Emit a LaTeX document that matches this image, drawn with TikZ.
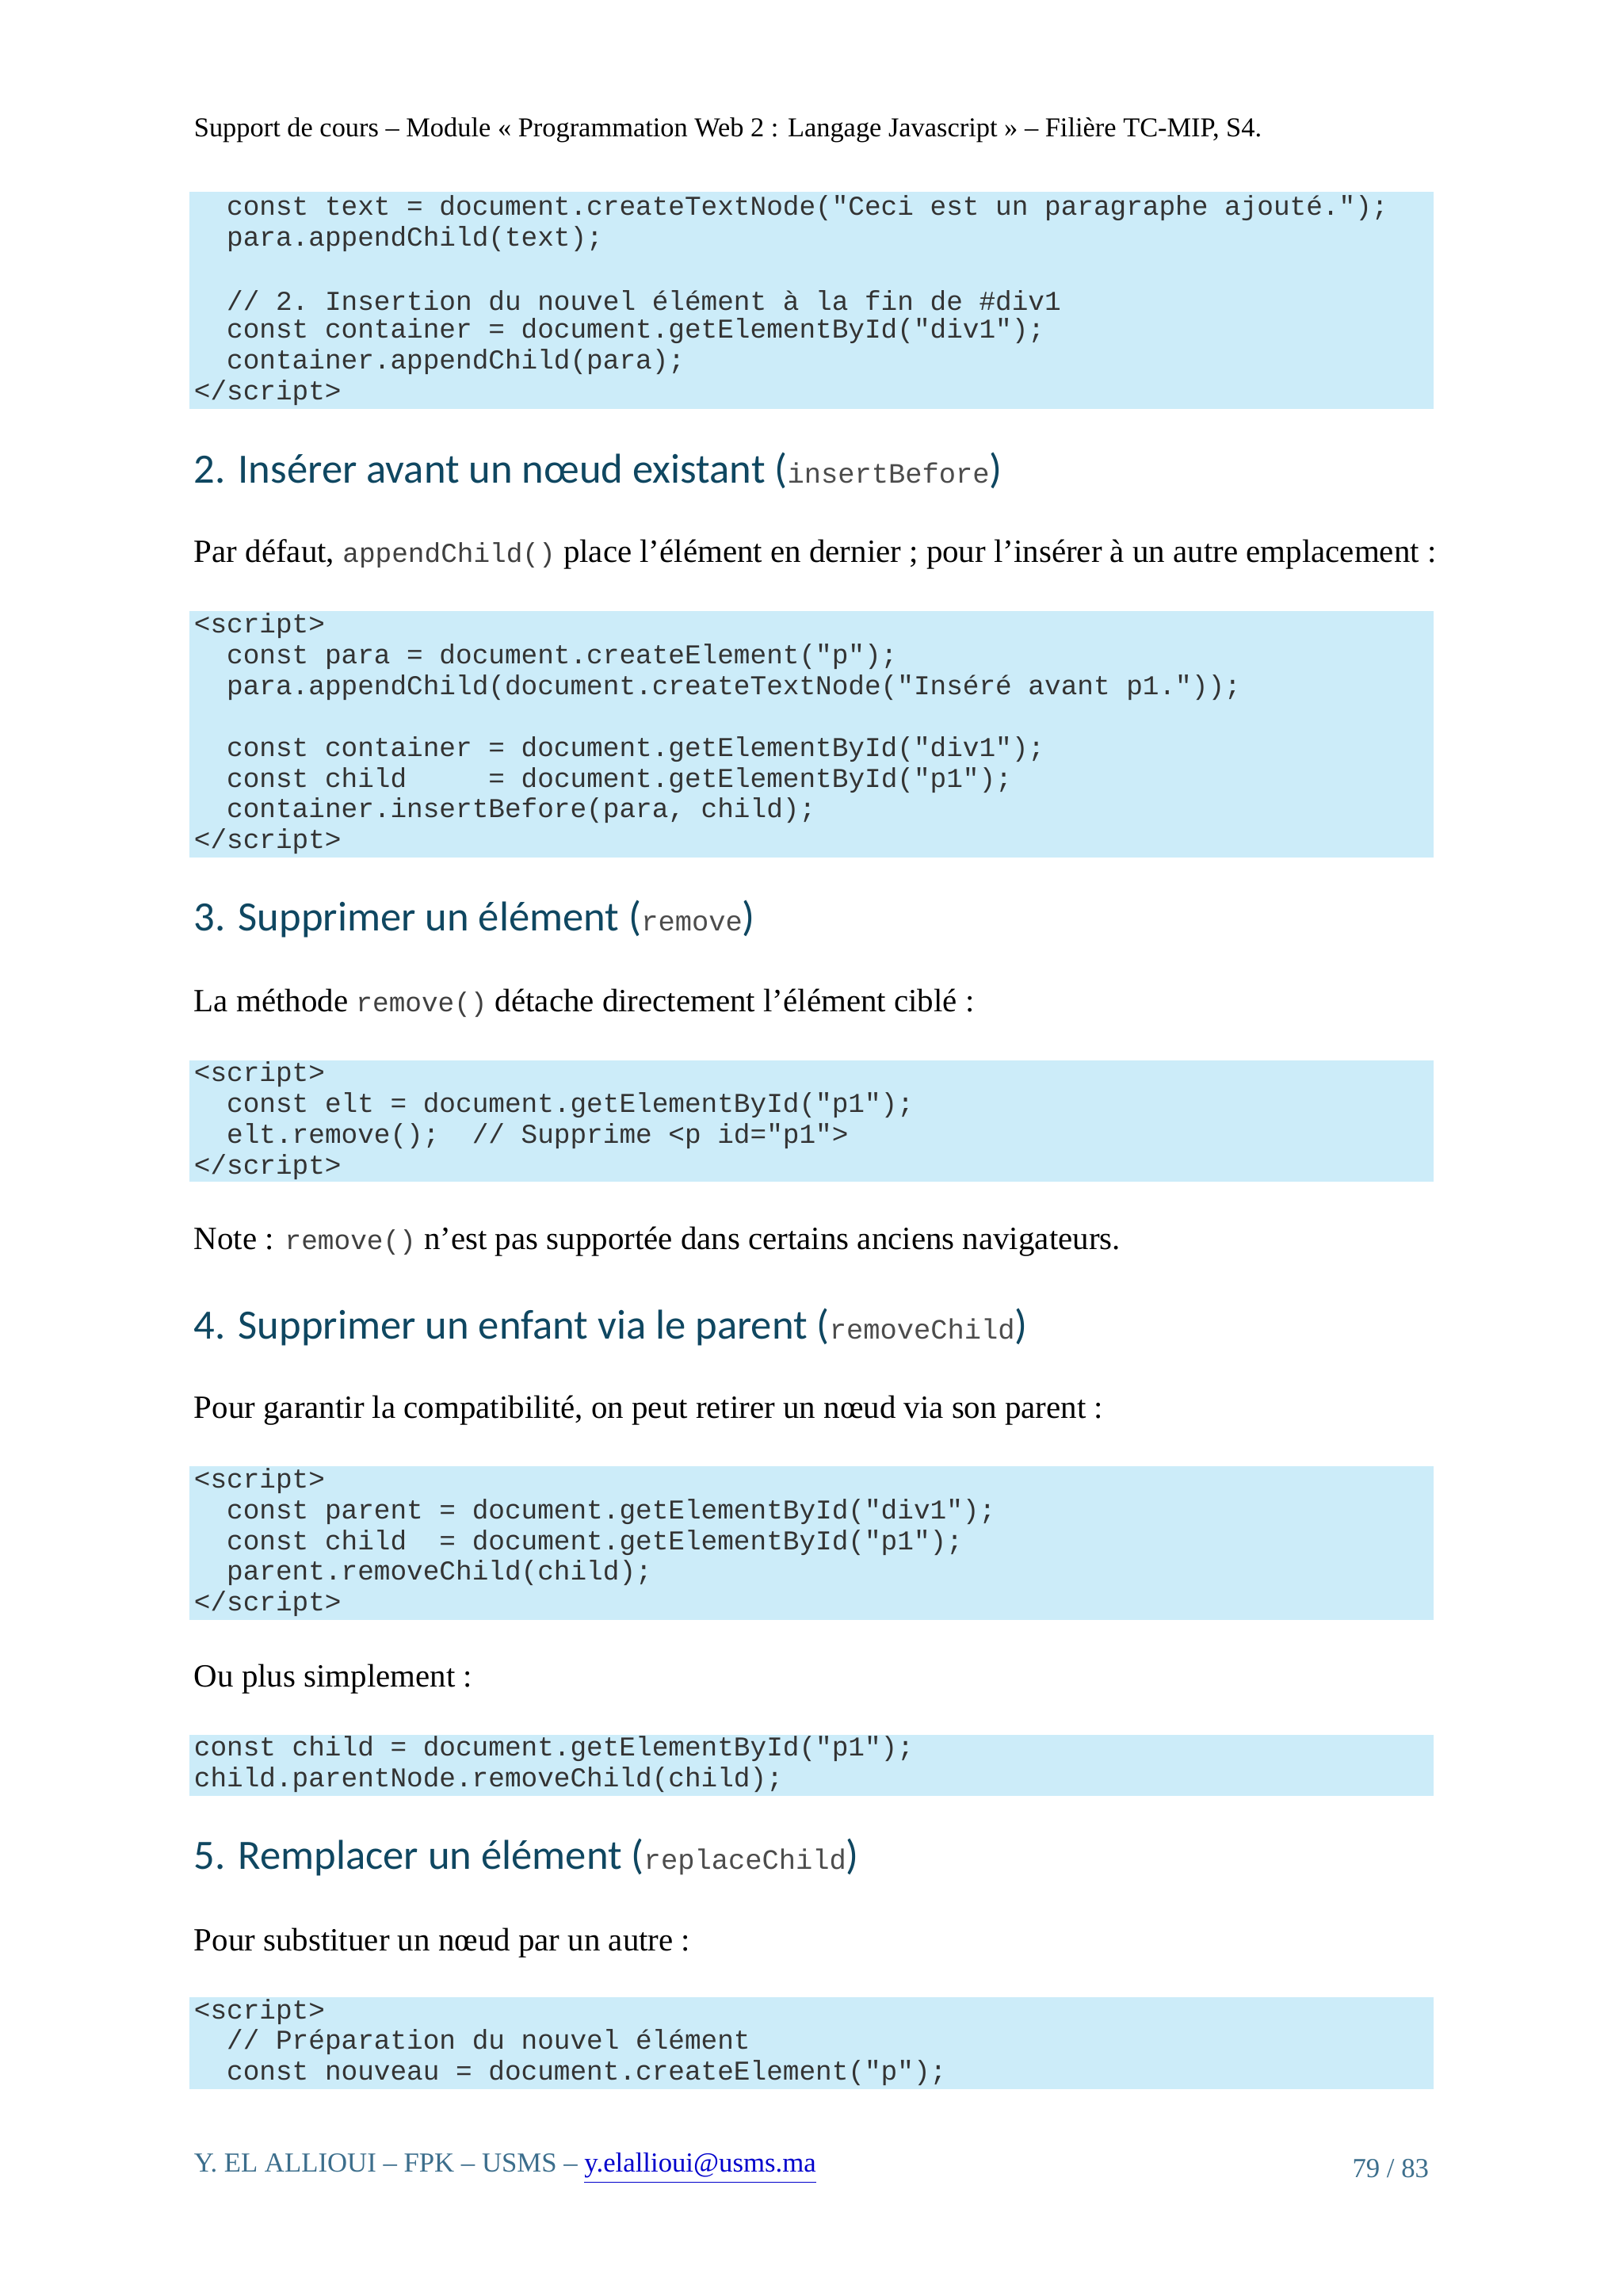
\documentclass[tikz,border=0pt]{standalone}
\usepackage{fontspec}
\setmainfont{Liberation Serif}
\setmonofont{Liberation Mono}
\newfontfamily\headfont{Carlito}
\definecolor{codebg}{RGB}{204,236,249}
\definecolor{headblue}{RGB}{15,71,97}
\definecolor{foot}{RGB}{60,110,140}
\tikzset{
  cb/.style={fill=codebg,draw=none},
  cl/.style={anchor=west,inner sep=0pt,font=\fontsize{10}{11}\ttfamily,text=black!80},
  bt/.style={anchor=west,inner sep=0pt,font=\fontsize{11.9}{14}\selectfont},
  hd/.style={anchor=west,inner sep=0pt,font=\headfont\fontsize{15.3}{18}\selectfont,text=headblue},
}
\newcommand{\ic}[1]{{\fontsize{10}{11}\ttfamily\color{black!75}#1}}
\newcommand{\hc}[1]{{\fontsize{10.3}{11}\ttfamily\color{black!70}#1}}
\begin{document}
\begin{tikzpicture}[x=0.5378pt,y=-0.5378pt]
\useasboundingbox[fill=white] (0,0) rectangle (1107,1566);
\node[bt,font=\fontsize{10}{12}\selectfont] (hdr) at (132,89) {Support de cours – Module « Programmation Web 2 : Langage Javascript » – Filière TC-MIP, S4.};
% box 1
\fill[cb] (129,131) rectangle (978,279);
\node[cl] (a1) at (132,142) {~~const~text~=~document.createTextNode("Ceci~est~un~paragraphe~ajouté.");};
\node[cl] (a2) at (132,163) {~~para.appendChild(text);};
\node[cl] (a3) at (132,205) {~~//~2.~Insertion~du~nouvel~élément~à~la~fin~de~\#div1};
\node[cl] (a4) at (132,226) {~~const~container~=~document.getElementById("div1");};
\node[cl] (a5) at (132,247) {~~container.appendChild(para);};
\node[cl] (a6) at (132,268) {</script>};
% heading 2
\node[hd] (h2) at (132,321) {2. Insérer avant un nœud existant (\hc{insertBefore})};
\node[bt] (p2) at (132,378) {Par défaut, \ic{appendChild()} place l’élément en dernier ; pour l’insérer à un autre emplacement :};
\fill[cb] (129,417) rectangle (978,585);
\node[cl] (b1) at (132,427) {<script>};
\node[cl] (b2) at (132,448) {~~const~para~=~document.createElement("p");};
\node[cl] (b3) at (132,469) {~~para.appendChild(document.createTextNode("Inséré~avant~p1."));};
\node[cl] (b4) at (132,511) {~~const~container~=~document.getElementById("div1");};
\node[cl] (b5) at (132,532) {~~const~child~~~~~=~document.getElementById("p1");};
\node[cl] (b6) at (132,553) {~~container.insertBefore(para,~child);};
\node[cl] (b7) at (132,574) {</script>};
% heading 3
\node[hd] (h3) at (132,627) {3. Supprimer un élément (\hc{remove})};
\node[bt] (p3) at (132,684) {La méthode \ic{remove()} détache directement l’élément ciblé :};
\fill[cb] (129,723) rectangle (978,806);
\node[cl] (c1) at (132,733) {<script>};
\node[cl] (c2) at (132,754) {~~const~elt~=~document.getElementById("p1");};
\node[cl] (c3) at (132,775) {~~elt.remove();~~//~Supprime~<p~id="p1">};
\node[cl] (c4) at (132,796) {</script>};
\node[bt] (n3) at (132,847) {Note : \ic{remove()} n’est pas supportée dans certains anciens navigateurs.};
% heading 4
\node[hd] (h4) at (132,905) {4. Supprimer un enfant via le parent (\hc{removeChild})};
\node[bt] (p4) at (132,962) {Pour garantir la compatibilité, on peut retirer un nœud via son parent :};
\fill[cb] (129,1000) rectangle (978,1105);
\node[cl] (d1) at (132,1010) {<script>};
\node[cl] (d2) at (132,1031) {~~const~parent~=~document.getElementById("div1");};
\node[cl] (d3) at (132,1052) {~~const~child~~=~document.getElementById("p1");};
\node[cl] (d4) at (132,1073) {~~parent.removeChild(child);};
\node[cl] (d5) at (132,1094) {</script>};
\node[bt] (p4b) at (132,1145) {Ou plus simplement :};
\fill[cb] (129,1183) rectangle (978,1225);
\node[cl] (e1) at (132,1193) {const~child~=~document.getElementById("p1");};
\node[cl] (e2) at (132,1214) {child.parentNode.removeChild(child);};
% heading 5
\node[hd] (h5) at (132,1267) {5. Remplacer un élément (\hc{replaceChild})};
\node[bt] (p5) at (132,1325) {Pour substituer un nœud par un autre :};
\fill[cb] (129,1362) rectangle (978,1425);
\node[cl] (f1) at (132,1372) {<script>};
\node[cl] (f2) at (132,1393) {~~//~Préparation~du~nouvel~élément};
\node[cl] (f3) at (132,1414) {~~const~nouveau~=~document.createElement("p");};
% footer
\node[bt,font=\fontsize{10.1}{12}\selectfont,text=foot] (ft) at (132,1479) {Y. EL ALLIOUI – FPK – USMS – {\color{blue!80!black}\underline{y.elallioui@usms.ma}}};
\node[bt,anchor=east,font=\fontsize{10.1}{12}\selectfont,text=foot] (pg) at (975,1479) {79 / 83};
\end{tikzpicture}
\end{document}
